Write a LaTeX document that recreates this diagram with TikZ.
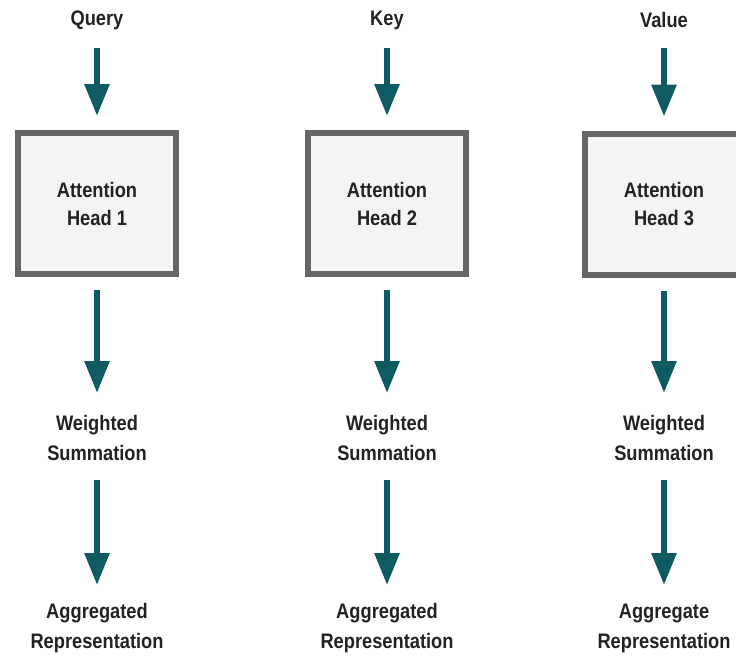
\documentclass[tikz,border=0pt]{standalone}
\usepackage{fontspec}
\setmainfont{Liberation Sans}[FakeStretch=0.87]
\usetikzlibrary{arrows.meta}
\definecolor{arrowteal}{HTML}{0E5C62}
\definecolor{boxborder}{HTML}{666666}
\definecolor{boxfill}{HTML}{F4F4F4}
\definecolor{txt}{HTML}{222222}
\tikzset{
  lbl/.style={font=\fontsize{21}{30}\selectfont\bfseries, text=txt, align=center, inner sep=0pt},
  headbox/.style={draw=boxborder, line width=6pt, fill=boxfill, minimum width=158pt, minimum height=141pt,
    font=\fontsize{21}{28}\selectfont\bfseries, text=txt, align=center, inner sep=0pt},
  flow/.style={draw=arrowteal, line width=6pt, -{Triangle[width=24pt,length=32pt]}}
}
\begin{document}
\begin{tikzpicture}[x=1pt,y=-1pt]
\useasboundingbox (0,0) rectangle (736,657);
% column 1
\node[lbl] (q1) at (97,20) {Query};
\node[headbox] (h1) at (97,203.5) {Attention\\Head 1};
\node[lbl] (w1) at (97,438) {Weighted\\Summation};
\node[lbl] (a1) at (97,628) {Aggregated\\Representation};
% column 2
\node[lbl] (q2) at (387,20) {Key};
\node[headbox] (h2) at (387,203.5) {Attention\\Head 2};
\node[lbl] (w2) at (387,438) {Weighted\\Summation};
\node[lbl] (a2) at (387,628) {Aggregated\\Representation};
% column 3
\node[lbl] (q3) at (664,20) {Value};
\node[headbox] (h3) at (664,204) {Attention\\Head 3};
\node[lbl] (w3) at (664,438) {Weighted\\Summation};
\node[lbl] (a3) at (664,628) {Aggregate\\Representation};
% arrows
\foreach \i in {1,2,3}{
  \draw[flow, shorten <=28pt, shorten >=14pt] (q\i.center) -- (h\i.north);
  \draw[flow, shorten <=13pt, shorten >=45pt] (h\i.south) -- (w\i.center);
  \draw[flow, shorten <=42pt, shorten >=43pt] (w\i.center) -- (a\i.center);
}
\end{tikzpicture}
\end{document}
